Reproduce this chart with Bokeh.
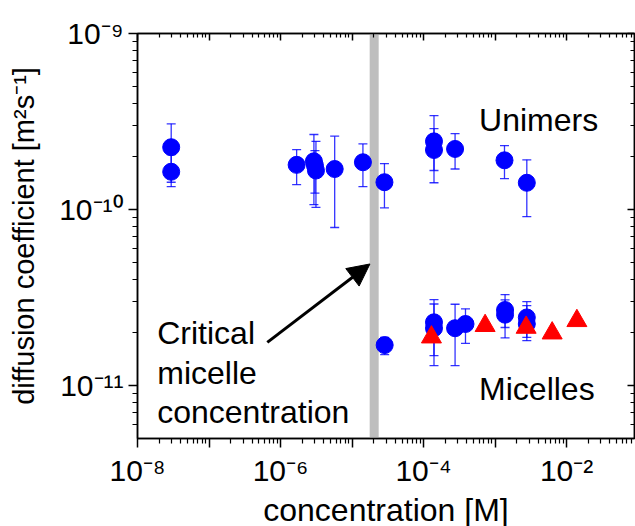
from bokeh.plotting import figure
from bokeh.models import (LogAxis, FixedTicker, CustomJSTickFormatter, Whisker, TeeHead,
                          ColumnDataSource, Span, Arrow, NormalHead, Range1d)
from bokeh.core.properties import value
from bokeh.embed import file_html
from bokeh.resources import INLINE

# ---------------- data ----------------
unimer_conc = [2.96e-8, 2.96e-8, 1.68e-6, 2.93e-6, 3.03e-6, 3.13e-6, 5.72e-6, 1.42e-5,
               2.84e-5, 1.40e-4, 1.40e-4, 2.76e-4, 1.355e-3, 2.78e-3]
unimer_D = [2.26e-10, 1.64e-10, 1.795e-10, 1.88e-10, 1.78e-10, 1.667e-10, 1.70e-10, 1.857e-10,
            1.43e-10, 2.44e-10, 2.18e-10, 2.21e-10, 1.905e-10, 1.42e-10]
unimer_hi = [3.07e-10, 2.05e-10, 2.19e-10, 2.67e-10, 2.16e-10, 2.44e-10, 2.61e-10, 2.36e-10,
             1.825e-10, 3.42e-10, 2.88e-10, 2.70e-10, 2.31e-10, 1.916e-10]
unimer_lo = [1.43e-10, 1.35e-10, 1.387e-10, 1.067e-10, 1.24e-10, 1.03e-10, 7.91e-11, 1.35e-10,
             1.023e-10, 1.667e-10, 1.42e-10, 1.70e-10, 1.50e-10, 9.12e-11]

micelle_conc = [2.86e-5, 1.40e-4, 1.40e-4, 2.76e-4, 3.86e-4, 1.38e-3, 1.38e-3, 2.78e-3, 2.78e-3]
micelle_D = [1.70e-11, 2.29e-11, 2.12e-11, 2.12e-11, 2.24e-11, 2.69e-11, 2.53e-11, 2.44e-11, 2.24e-11]
micelle_hi = [1.88e-11, 3.08e-11, 2.91e-11, 2.90e-11, 2.73e-11, 3.29e-11, 3.07e-11, 3.00e-11, 2.85e-11]
micelle_lo = [1.50e-11, 1.48e-11, 1.30e-11, 1.30e-11, 1.739e-11, 2.14e-11, 1.866e-11, 1.88e-11, 1.80e-11]

triangle_conc = [1.29e-4, 7.26e-4, 2.72e-3, 6.29e-3, 1.394e-2]
triangle_D = [1.886e-11, 2.19e-11, 2.14e-11, 1.987e-11, 2.336e-11]

cmc = 2.04e-5
arrow_start = (6.53e-7, 1.762e-11)
arrow_end = (1.78e-5, 4.91e-11)

label_text = ["Unimers", "Micelles", "Critical", "micelle", "concentration"]
label_x = [5.98e-4, 5.98e-4, 1.887e-8, 1.887e-8, 1.887e-8]
label_y = [3.246e-10, 9.58e-12, 1.993e-11, 1.175e-11, 7.05e-12]

x_major = [1e-8, 1e-7, 1e-6, 1e-5, 1e-4, 1e-3, 1e-2, 1e-1]
y_major = [1e-12, 1e-11, 1e-10, 1e-9]
x_minor = [k * 10.0 ** e for e in range(-8, -1) for k in range(2, 10)]
y_minor = [k * 10.0 ** e for e in range(-12, -9) for k in range(2, 10)]

x_title = "concentration [M]"
y_title = "diffusion coefficient [m²s⁻¹]"

# ---------------- figure ----------------
FONT = "Liberation Sans"
p = figure(x_axis_type="log", y_axis_type="log",
           x_range=Range1d(1e-8, 10 ** -1.05), y_range=Range1d(10 ** -11.3, 1e-9),
           frame_width=497, frame_height=405,
           min_border_left=137, min_border_right=1, min_border_top=33, min_border_bottom=88,
           output_backend="svg", toolbar_location=None,
           background_fill_color="white", border_fill_color="white",
           outline_line_color="black", outline_line_width=1.5)
p.xgrid.visible = False
p.ygrid.visible = False

sup_code = """
const sup = {"-":"\u207b","0":"\u2070","1":"\u00b9","2":"\u00b2","3":"\u00b3","4":"\u2074",
             "5":"\u2075","6":"\u2076","7":"\u2077","8":"\u2078","9":"\u2079"};
const e = Math.round(Math.log10(tick));
if (SKIP && Math.abs(e) % 2 == 1) { return ""; }
return "10" + String(e).split("").map(c => sup[c]).join("");
"""


def style(ax, inward):
    ax.axis_line_color = "black"
    ax.axis_line_width = 1.5
    ax.major_tick_line_color = "black"
    ax.minor_tick_line_color = "black"
    ax.major_tick_line_width = 1.5
    ax.minor_tick_line_width = 1.2
    if inward:
        ax.major_tick_in, ax.major_tick_out = 7, 0
        ax.minor_tick_in, ax.minor_tick_out = 4, 0
    else:
        ax.major_tick_in, ax.major_tick_out = 0, 9
        ax.minor_tick_in, ax.minor_tick_out = 0, 5


xax = p.xaxis[0]
xax.ticker = FixedTicker(ticks=x_major, minor_ticks=x_minor)
xax.formatter = CustomJSTickFormatter(code=sup_code.replace("SKIP", "true"))
yax = p.yaxis[0]
yax.ticker = FixedTicker(ticks=y_major, minor_ticks=y_minor)
yax.formatter = CustomJSTickFormatter(code=sup_code.replace("SKIP", "false"))
for ax in (xax, yax):
    style(ax, False)
    ax.major_label_text_font = FONT
    ax.major_label_text_font_size = "30px"
    ax.major_label_text_color = "black"
    ax.axis_label_text_font = FONT
    ax.axis_label_text_font_style = "normal"
    ax.axis_label_text_color = "black"
xax.axis_label_text_font_size = "32px"
yax.axis_label_text_font_size = "29px"
xax.major_label_standoff = 6
yax.major_label_standoff = 5
xax.axis_label = x_title
yax.axis_label = y_title
xax.axis_label_standoff = 2
yax.axis_label_standoff = 16

top = LogAxis(ticker=FixedTicker(ticks=x_major, minor_ticks=x_minor),
              formatter=CustomJSTickFormatter(code="return '';"),
              major_label_text_font_size="0px", major_label_standoff=0)
right = LogAxis(ticker=FixedTicker(ticks=y_major, minor_ticks=y_minor),
                formatter=CustomJSTickFormatter(code="return '';"),
                major_label_text_font_size="0px", major_label_standoff=0)
style(top, True)
style(right, True)
p.add_layout(top, "above")
p.add_layout(right, "right")

# CMC band
p.add_layout(Span(location=cmc, dimension="height", line_color="#BEBEBE",
                  line_width=9, level="underlay"))

# error bars
usrc = ColumnDataSource(dict(x=unimer_conc, y=unimer_D, hi=unimer_hi, lo=unimer_lo))
msrc = ColumnDataSource(dict(x=micelle_conc, y=micelle_D, hi=micelle_hi, lo=micelle_lo))
for src in (usrc, msrc):
    w = Whisker(source=src, base="x", upper="hi", lower="lo", dimension="height",
                line_color="blue", line_alpha=0.8, line_width=1.3, level="underlay",
                upper_head=TeeHead(size=9, line_color="blue", line_alpha=0.8, line_width=1.3),
                lower_head=TeeHead(size=9, line_color="blue", line_alpha=0.8, line_width=1.3))
    p.add_layout(w)

p.scatter("x", "y", source=usrc, marker="circle", size=17, fill_color="blue", line_color="blue")
p.scatter("x", "y", source=msrc, marker="circle", size=17, fill_color="blue", line_color="blue")
p.scatter(triangle_conc, triangle_D, marker="triangle", size=20,
          fill_color="red", line_color="red")

# arrow
p.add_layout(Arrow(x_start=arrow_start[0], y_start=arrow_start[1],
                   x_end=arrow_end[0], y_end=arrow_end[1],
                   line_color="black", line_width=3,
                   end=NormalHead(size=22, fill_color="black", line_color="black")))

# texts
p.text(x=label_x, y=label_y, text=label_text, text_font=value(FONT),
       text_font_size="32px", text_color="black", text_align="left",
       text_baseline="alphabetic")

open("out.html", "w").write(file_html(p, INLINE))
